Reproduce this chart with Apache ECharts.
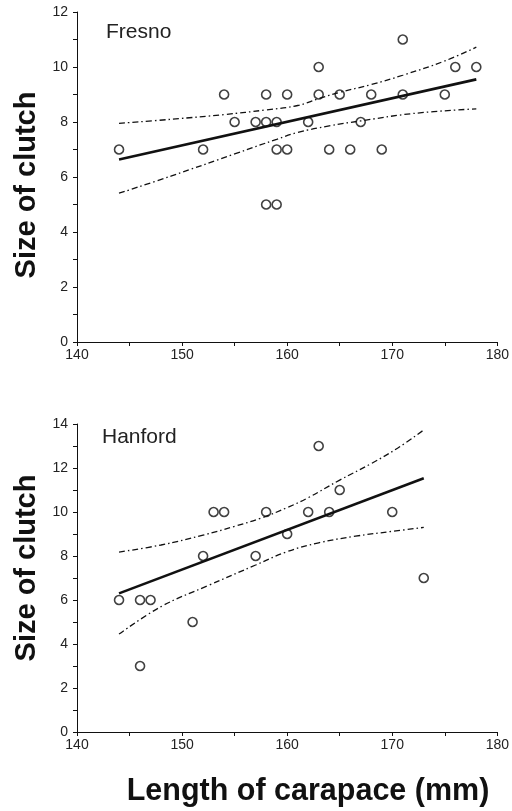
<!DOCTYPE html>
<html>
<head>
<meta charset="utf-8">
<title>Clutch size vs carapace length</title>
<script src="https://cdn.jsdelivr.net/npm/echarts@6/dist/echarts.min.js"></script>
<style>
  html, body { margin: 0; padding: 0; background: #fff; }
  #chart { width: 512px; height: 811px; }
</style>
</head>
<body>
<div id="chart"></div>
<script>
// x axis (carapace length, mm): min, max, step
const xRange = [140, 180, 10]
const fresnoYRange = [0, 12, 2]
const hanfordYRange = [0, 14, 2]

// Fresno observations
const fresnoLength = [144, 152, 154, 155, 157, 158, 158, 158, 159, 159, 159, 160, 160, 162, 163, 163, 164, 165, 166, 167, 168, 169, 171, 171, 175, 176, 178]
const fresnoClutch = [7, 7, 9, 8, 8, 9, 8, 5, 5, 8, 7, 9, 7, 8, 10, 9, 7, 9, 7, 8, 9, 7, 11, 9, 9, 10, 10]
// Fresno regression line and 95% bands
const fresnoFitX = [144, 178]
const fresnoFitY = [6.64, 9.55]
const fresnoUpperX = [144, 149, 154, 158, 161, 163, 165, 168, 171, 175, 178]
const fresnoUpperY = [7.95, 8.1, 8.27, 8.44, 8.6, 8.85, 9.08, 9.36, 9.7, 10.22, 10.72]
const fresnoLowerX = [144, 149, 155, 159, 161, 164, 167, 172, 178]
const fresnoLowerY = [5.41, 6.04, 6.84, 7.37, 7.62, 7.86, 8.04, 8.31, 8.48]

// Hanford observations
const hanfordLength = [144, 146, 147, 146, 151, 152, 153, 154, 157, 158, 160, 162, 163, 164, 165, 170, 173]
const hanfordClutch = [6, 6, 6, 3, 5, 8, 10, 10, 8, 10, 9, 10, 13, 10, 11, 10, 7]
const hanfordFitX = [144, 173]
const hanfordFitY = [6.3, 11.53]
const hanfordUpperX = [144, 148, 152, 155, 157.5, 160, 162, 165, 168, 170.5, 173]
const hanfordUpperY = [8.18, 8.5, 8.95, 9.35, 9.72, 10.2, 10.65, 11.45, 12.2, 12.9, 13.73]
const hanfordLowerX = [144, 148, 152.5, 157, 160, 163, 166.5, 170, 173]
const hanfordLowerY = [4.45, 5.7, 6.66, 7.59, 8.2, 8.6, 8.9, 9.12, 9.3]

const FONT = 'Liberation Sans, Arial, Helvetica, sans-serif'
const INK = '#111'

const pairs = (xs, ys) => xs.map((x, i) => [x, ys[i]])

const axisBase = {
  type: 'value',
  axisLine: { show: true, lineStyle: { color: INK, width: 1 } },
  axisTick: { show: true, length: 4, lineStyle: { color: INK } },
  minorTick: { show: true, splitNumber: 2, length: 4, lineStyle: { color: INK } },
  splitLine: { show: false },
}

const xAxisFor = (gridIndex) => ({
  ...axisBase,
  gridIndex,
  min: xRange[0],
  max: xRange[1],
  interval: xRange[2],
  axisLabel: { color: '#222', fontSize: 14, fontFamily: FONT, margin: 6 },
})

const yAxisFor = (gridIndex, range) => ({
  ...axisBase,
  gridIndex,
  min: range[0],
  max: range[1],
  interval: range[2],
  axisLabel: { color: '#222', fontSize: 14, fontFamily: FONT, margin: 9 },
})

const scatter = (idx, xs, ys) => ({
  type: 'scatter',
  xAxisIndex: idx,
  yAxisIndex: idx,
  symbol: 'circle',
  symbolSize: 9,
  itemStyle: { color: 'rgba(0,0,0,0)', borderColor: INK, borderWidth: 1.6 },
  data: pairs(xs, ys),
  z: 5,
})

const fitLine = (idx, xs, ys) => ({
  type: 'line',
  xAxisIndex: idx,
  yAxisIndex: idx,
  showSymbol: false,
  lineStyle: { color: INK, width: 2.6 },
  data: pairs(xs, ys),
})

const band = (idx, xs, ys) => ({
  type: 'line',
  xAxisIndex: idx,
  yAxisIndex: idx,
  showSymbol: false,
  smooth: 0.4,
  lineStyle: { color: INK, width: 1.3, type: [6, 3, 1.5, 3] },
  data: pairs(xs, ys),
})

const option = {
  animation: false,
  backgroundColor: '#fff',
  grid: [
    { left: 77, right: 13, top: 12, height: 330 },
    { left: 77, right: 13, top: 424, height: 308 },
  ],
  xAxis: [xAxisFor(0), xAxisFor(1)],
  yAxis: [yAxisFor(0, fresnoYRange), yAxisFor(1, hanfordYRange)],
  series: [
    band(0, fresnoUpperX, fresnoUpperY),
    band(0, fresnoLowerX, fresnoLowerY),
    fitLine(0, fresnoFitX, fresnoFitY),
    scatter(0, fresnoLength, fresnoClutch),
    band(1, hanfordUpperX, hanfordUpperY),
    band(1, hanfordLowerX, hanfordLowerY),
    fitLine(1, hanfordFitX, hanfordFitY),
    scatter(1, hanfordLength, hanfordClutch),
  ],
  graphic: [
    { type: 'text', left: 106, top: 22, style: { text: 'Fresno', font: `21px ${FONT}`, fill: '#222' } },
    { type: 'text', left: 102, top: 427, style: { text: 'Hanford', font: `21px ${FONT}`, fill: '#222' } },
    {
      type: 'text', x: 27, y: 185, rotation: Math.PI / 2,
      style: { text: 'Size of clutch', font: `bold 29px ${FONT}`, fill: INK, align: 'center', verticalAlign: 'middle' },
    },
    {
      type: 'text', x: 27, y: 568, rotation: Math.PI / 2,
      style: { text: 'Size of clutch', font: `bold 29px ${FONT}`, fill: INK, align: 'center', verticalAlign: 'middle' },
    },
    {
      type: 'text', x: 308, y: 792,
      style: { text: 'Length of carapace (mm)', font: `bold 30.5px ${FONT}`, fill: INK, align: 'center', verticalAlign: 'middle' },
    },
  ],
}

const chart = echarts.init(document.getElementById('chart'))
chart.setOption(option)
window.addEventListener('resize', () => chart.resize())
</script>
</body>
</html>
